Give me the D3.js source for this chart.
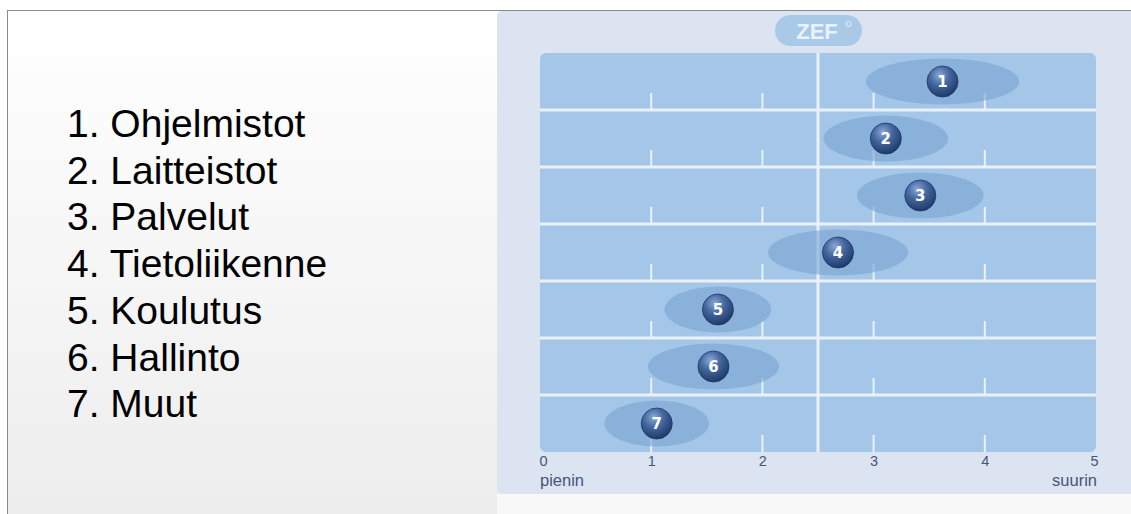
<!DOCTYPE html>
<html><head><meta charset="utf-8">
<script src="https://cdn.jsdelivr.net/npm/d3@7"></script>
<style>html,body{margin:0;padding:0;overflow:hidden;background:#fff}</style>
</head><body>
<script>
// ---- data ----
const categories = ["Ohjelmistot","Laitteistot","Palvelut","Tietoliikenne","Koulutus","Hallinto","Muut"];
const means   = [3.62, 3.11, 3.42, 2.68, 1.60, 1.56, 1.05];
const spreads = [0.69, 0.56, 0.57, 0.63, 0.48, 0.59, 0.47];
const tickValues = [0,1,2,3,4,5];
const endLabels = ["pienin","suurin"];
const brand = "ZEF";

const W = 1131, H = 514;
const svg = d3.select("body").append("svg").attr("width", W).attr("height", H);
const defs = svg.append("defs");
const bg = defs.append("linearGradient").attr("id","slidebg").attr("x1",0).attr("y1",0).attr("x2",0).attr("y2",1);
bg.append("stop").attr("offset","0%").attr("stop-color","#ffffff");
bg.append("stop").attr("offset","100%").attr("stop-color","#ededed");
const rg = defs.append("radialGradient").attr("id","ball").attr("cx","40%").attr("cy","30%").attr("r","70%");
rg.append("stop").attr("offset","0%").attr("stop-color","#8aa9d6");
rg.append("stop").attr("offset","45%").attr("stop-color","#45689f");
rg.append("stop").attr("offset","100%").attr("stop-color","#1f3b6b");

// slide
svg.append("rect").attr("x",0).attr("y",0).attr("width",W).attr("height",H).attr("fill","#fff");
svg.append("rect").attr("x",7).attr("y",10).attr("width",W-7).attr("height",H-10).attr("fill","url(#slidebg)");
svg.append("line").attr("x1",7).attr("x2",W).attr("y1",10.5).attr("y2",10.5).attr("stroke","#8a8a8a");
svg.append("line").attr("x1",7.5).attr("x2",7.5).attr("y1",10).attr("y2",H).attr("stroke","#8a8a8a");

// list text
const list = svg.append("g");
categories.forEach((c,i)=>{
  list.append("text").attr("x",67).attr("y",137 + i*46.7)
    .attr("font-family","Liberation Sans, Arial, sans-serif").attr("font-size",39).attr("fill","#000")
    .text((i+1)+". "+c);
});

// panel
svg.append("rect").attr("x",497).attr("y",11).attr("width",W-497+10).attr("height",483).attr("rx",5).attr("fill","#dce4f1");
svg.append("rect").attr("x",497).attr("y",494).attr("width",W-497).attr("height",20).attr("fill","#f8f8f8");

// ZEF pill
svg.append("rect").attr("x",775).attr("y",15).attr("width",87).attr("height",31).attr("rx",15.5).attr("fill","#a9c9e9");
svg.append("text").attr("x",817).attr("y",39).attr("text-anchor","middle")
  .attr("font-family","Liberation Sans, Arial, sans-serif").attr("font-weight","bold").attr("font-size",22)
  .attr("fill","#eaf2fb").text(brand);
svg.append("circle").attr("cx",848.5).attr("cy",24).attr("r",2.5).attr("fill","none").attr("stroke","#eaf2fb").attr("stroke-width",1);

// scales
const x = d3.scaleLinear().domain([0,5]).range([540,1096]);
const y = d3.scaleBand().domain(categories).range([53,452]);

// rows
svg.append("rect").attr("x",x(0)).attr("y",y.range()[0]).attr("width",x(5)-x(0)).attr("height",y.range()[1]-y.range()[0])
  .attr("rx",6).attr("fill","#a4c6e8");

// ticks
const tickG = svg.append("g");
categories.forEach(c=>{
  tickG.selectAll(null).data(tickValues.slice(1,-1)).enter().append("line")
    .attr("x1",d=>x(d)).attr("x2",d=>x(d))
    .attr("y1",y(c)+y.bandwidth()-17).attr("y2",y(c)+y.bandwidth())
    .attr("stroke","#e9f1fa").attr("stroke-width",2);
});
// separators
svg.selectAll(null).data(categories.slice(1)).enter().append("line")
  .attr("x1",x(0)).attr("x2",x(5)).attr("y1",d=>y(d)).attr("y2",d=>y(d))
  .attr("stroke","#e9f1fa").attr("stroke-width",3);
// middle line
svg.append("line").attr("x1",x(2.5)).attr("x2",x(2.5)).attr("y1",y.range()[0]).attr("y2",y.range()[1])
  .attr("stroke","#e9f1fa").attr("stroke-width",3);

// ellipses
svg.selectAll(null).data(categories).enter().append("ellipse")
  .attr("cx",(d,i)=>x(means[i])).attr("cy",d=>y(d)+y.bandwidth()/2)
  .attr("rx",(d,i)=>x(spreads[i])-x(0)).attr("ry",23)
  .attr("fill","#7aa3d0").attr("fill-opacity",0.6);

// balls
const balls = svg.selectAll(null).data(categories).enter().append("g")
  .attr("transform",(d,i)=>`translate(${x(means[i])},${y(d)+y.bandwidth()/2})`);
balls.append("ellipse").attr("rx",15.5).attr("ry",15.5).attr("fill","url(#ball)")
  .attr("stroke","#1d3763").attr("stroke-width",0.8);
balls.append("text").attr("y",5.5).attr("text-anchor","middle")
  .attr("font-family","DejaVu Sans, sans-serif").attr("font-weight","bold").attr("font-size",15)
  .attr("fill","#ffffff").text((d,i)=>i+1);

// axis labels
const axisG = svg.append("g").attr("transform",`translate(0,${y.range()[1]})`)
  .call(d3.axisBottom(x).tickValues(tickValues).tickSize(0).tickPadding(4).tickFormat(d3.format("d")));
axisG.select(".domain").remove();
axisG.selectAll("text").attr("font-family","Liberation Sans, Arial, sans-serif").attr("font-size",14.5).attr("fill","#45557a")
  .attr("text-anchor",d=>d===0?"start":d===5?"end":"middle").attr("dx",d=>d===0?-1:d===5?2:0);
svg.append("text").attr("x",x(0)).attr("y",486).attr("font-family","Liberation Sans, Arial, sans-serif")
  .attr("font-size",16.5).attr("fill","#45557a").text(endLabels[0]);
svg.append("text").attr("x",x(5)+1).attr("y",486).attr("text-anchor","end").attr("font-family","Liberation Sans, Arial, sans-serif")
  .attr("font-size",16.5).attr("fill","#45557a").text(endLabels[1]);
</script>
</body></html>
